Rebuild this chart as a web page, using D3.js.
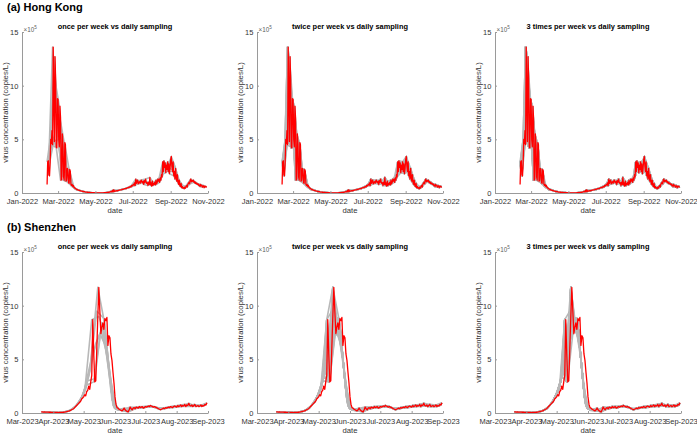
<!DOCTYPE html>
<html>
<head>
<meta charset="utf-8">
<script src="https://cdn.jsdelivr.net/npm/d3@7"></script>
<style>
  body { margin: 0; background: #fff; }
  svg { font-family: "Liberation Sans", Arial, sans-serif; }
</style>
</head>
<body>
<svg width="697" height="434"></svg>
<script>
// virus concentration (x10^5 copies/L), one value per day from the start date
// daily sampling (red)
var hkStart = "2022-02-11";
var hkValues = [
  0.8, 2.9, 3.0, 1.7, 1.6, 2.8, 5.0,
  4.6, 5.8, 4.5, 13.6, 9.0, 4.8, 12.7,
  10.5, 4.3, 4.2, 8.8, 8.7, 5.0, 4.3,
  8.1, 7.0, 1.2, 1.3, 5.5, 4.5, 1.5,
  1.2, 4.7, 4.5, 1.1, 1.2, 2.3, 2.2,
  1.0, 0.9, 2.2, 2.0, 0.8, 0.7, 0.8,
  0.6, 0.7, 0.5, 0.5, 0.4, 0.4, 0.35,
  0.3, 0.32, 0.28, 0.25, 0.24, 0.22, 0.2,
  0.18, 0.17, 0.15, 0.14, 0.13, 0.12, 0.1,
  0.09, 0.08, 0.08, 0.07, 0.06, 0.06, 0.05,
  0.05, 0.04, 0.04, 0.04, 0.03, 0.03, 0.03,
  0.03, 0.02, 0.02, 0.02, 0.02, 0.02, 0.02,
  0.02, 0.02, 0.02, 0.02, 0.02, 0.02, 0.02,
  0.02, 0.02, 0.03, 0.03, 0.03, 0.04, 0.04,
  0.05, 0.05, 0.06, 0.07, 0.08, 0.1, 0.12,
  0.15, 0.1, 0.25, 0.12, 0.3, 0.15, 0.2,
  0.18, 0.2, 0.22, 0.2, 0.24, 0.25, 0.27,
  0.28, 0.3, 0.3, 0.32, 0.35, 0.33, 0.36,
  0.38, 0.4, 0.42, 0.4, 0.45, 0.48, 0.5,
  0.52, 0.5, 0.58, 0.6, 0.55, 0.7, 0.65,
  0.72, 0.8, 0.75, 0.95, 0.7, 1.3, 0.9,
  1.1, 1.2, 0.85, 1.0, 1.05, 0.9, 1.1,
  1.2, 1.0, 0.95, 1.1, 0.8, 1.15, 1.0,
  1.3, 1.0, 0.9, 0.95, 0.7, 1.0, 0.8,
  1.45, 0.75, 0.95, 0.65, 1.1, 0.7, 0.9,
  0.8, 1.0, 0.75, 1.2, 0.85, 1.0, 1.3,
  1.1, 1.3, 1.0, 1.4, 1.2, 1.7, 1.5,
  2.9, 2.0, 3.0, 2.4, 2.8, 1.9, 2.6,
  2.2, 2.9, 2.0, 2.7, 1.8, 2.3, 3.1,
  3.4, 2.5, 2.0, 2.9, 1.6, 2.0, 1.3,
  2.3, 1.5, 1.1, 1.7, 1.0, 0.8, 1.2,
  0.7, 0.6, 0.9, 0.5, 0.6, 0.45, 0.5,
  0.4, 0.55, 0.45, 0.6, 0.7, 0.55, 0.8,
  0.9, 1.0, 0.85, 1.2, 1.3, 1.05, 1.15,
  1.1, 1.2, 1.0, 1.05, 0.9, 1.0, 0.85,
  0.9, 0.8, 0.85, 0.7, 0.75, 0.6, 0.8,
  0.7, 0.65, 0.55, 0.7, 0.6, 0.5, 0.65,
  0.6, 0.55, 0.6
];
var hkSampledValues = [
  2.9, 3.0, 1.7, 1.6, 2.8, 5.0, 4.6,
  5.8, 4.5, 13.6, 9.0, 4.8, 12.7, 10.5,
  4.3, 4.2, 8.8, 8.7, 5.0, 4.3, 8.1,
  7.0, 1.2, 1.3, 5.5, 4.5, 1.5, 1.2,
  4.7, 4.5, 1.1, 1.2, 2.3, 2.2, 1.0,
  0.9, 2.2, 2.0, 0.8, 0.7, 0.8, 0.6,
  0.7, 0.5, 0.5, 0.4, 0.4, 0.35, 0.3,
  0.3, 0.32, 0.28, 0.25, 0.24, 0.22, 0.2,
  0.18, 0.17, 0.15, 0.14, 0.13, 0.12, 0.1,
  0.09, 0.08, 0.08, 0.07, 0.06, 0.06, 0.05,
  0.05, 0.04, 0.04, 0.04, 0.03, 0.03, 0.03,
  0.03, 0.02, 0.02, 0.02, 0.02, 0.02, 0.02,
  0.02, 0.02, 0.02, 0.02, 0.02, 0.02, 0.02,
  0.02, 0.02, 0.03, 0.03, 0.03, 0.04, 0.04,
  0.05, 0.05, 0.06, 0.07, 0.08, 0.1, 0.12,
  0.15, 0.1, 0.25, 0.12, 0.3, 0.15, 0.2,
  0.18, 0.2, 0.22, 0.2, 0.24, 0.25, 0.27,
  0.28, 0.3, 0.3, 0.32, 0.35, 0.33, 0.36,
  0.38, 0.4, 0.42, 0.4, 0.45, 0.48, 0.5,
  0.52, 0.5, 0.58, 0.6, 0.55, 0.7, 0.65,
  0.72, 0.8, 0.75, 0.95, 0.7, 1.3, 0.9,
  1.1, 1.2, 0.85, 1.0, 1.05, 0.9, 1.1,
  1.2, 1.0, 0.95, 1.1, 0.8, 1.15, 1.0,
  1.3, 1.0, 0.9, 0.95, 0.7, 1.0, 0.8,
  1.45, 0.75, 0.95, 0.65, 1.1, 0.7, 0.9,
  0.8, 1.0, 0.75, 1.2, 0.85, 1.0, 1.3,
  1.1, 1.3, 1.0, 1.4, 1.2, 1.7, 1.5,
  2.9, 2.0, 3.0, 2.4, 2.8, 1.9, 2.6,
  2.2, 2.9, 2.0, 2.7, 1.8, 2.3, 3.1,
  3.4, 2.5, 2.0, 2.9, 1.6, 2.0, 1.3,
  2.3, 1.5, 1.1, 1.7, 1.0, 0.8, 1.2,
  0.7, 0.6, 0.9, 0.5, 0.6, 0.45, 0.5,
  0.4, 0.55, 0.45, 0.6, 0.7, 0.55, 0.8,
  0.9, 1.0, 0.85, 1.2, 1.3, 1.05, 1.15,
  1.1, 1.2, 1.0, 1.05, 0.9, 1.0, 0.85,
  0.9, 0.8, 0.85, 0.7, 0.75, 0.6, 0.8,
  0.7, 0.65, 0.55, 0.7, 0.6, 0.5, 0.65,
  0.6, 0.55, 0.6
];

var szStart = "2023-03-20";
var szValues = [
  0.1, 0.1, 0.09, 0.1, 0.08, 0.09, 0.08,
  0.08, 0.07, 0.07, 0.06, 0.06, 0.06, 0.05,
  0.05, 0.05, 0.05, 0.04, 0.05, 0.05, 0.06,
  0.06, 0.07, 0.08, 0.1, 0.12, 0.15, 0.18,
  0.2, 0.25, 0.3, 0.35, 0.4, 0.5, 0.6,
  0.7, 0.8, 0.9, 1.0, 1.1, 1.3, 1.4,
  1.5, 1.7, 1.6, 2.0, 2.1, 2.5, 2.2,
  2.9, 3.5, 8.7, 5.5, 2.9, 3.0, 6.0,
  9.0, 11.7, 9.5, 7.4, 8.0, 8.4, 7.8,
  8.8, 8.6, 8.9, 6.3, 7.2, 7.0, 5.5,
  4.9, 3.8, 2.8, 1.5, 0.8, 0.5, 0.45,
  0.35, 0.3, 0.25, 0.2, 0.3, 0.45, 0.3,
  0.2, 0.15, 0.1, 0.3, 0.55, 0.4, 0.3,
  0.45, 0.5, 0.4, 0.55, 0.5, 0.45, 0.6,
  0.5, 0.55, 0.6, 0.45, 0.5, 0.6, 0.55,
  0.6, 0.65, 0.6, 0.7, 0.65, 0.6, 0.55,
  0.6, 0.55, 0.5, 0.45, 0.4, 0.35, 0.3,
  0.35, 0.4, 0.45, 0.4, 0.5, 0.45, 0.5,
  0.55, 0.5, 0.6, 0.55, 0.5, 0.6, 0.65,
  0.6, 0.55, 0.7, 0.6, 0.65, 0.75, 0.6,
  0.7, 0.65, 0.8, 0.6, 0.75, 0.7, 0.9,
  0.7, 0.65, 0.75, 0.6, 0.7, 0.8, 0.6,
  0.65, 0.7, 0.6, 0.65, 0.75, 0.6, 0.7,
  0.65, 0.8, 0.75, 0.95
];
var szSampledValues = [
  0.1, 0.1, 0.09, 0.1, 0.08, 0.09, 0.08,
  0.08, 0.07, 0.07, 0.06, 0.06, 0.06, 0.05,
  0.05, 0.05, 0.05, 0.04, 0.05, 0.05, 0.06,
  0.06, 0.07, 0.08, 0.1, 0.12, 0.15, 0.18,
  0.2, 0.25, 0.3, 0.35, 0.4, 0.5, 0.6,
  0.7, 0.8, 0.9, 1.0, 1.2, 1.4, 1.6,
  1.8, 2.0, 2.2, 2.6, 3.0, 3.4, 3.9,
  4.8, 8.7, 5.5, 2.9, 3.2, 6.5, 9.5,
  11.7, 9.0, 7.4, 7.8, 8.4, 8.0, 8.8,
  8.2, 7.0, 6.0, 5.0, 4.0, 3.0, 2.0,
  1.2, 0.7, 0.5, 0.4, 0.35, 0.3, 0.25,
  0.35, 0.3, 0.25, 0.2, 0.3, 0.45, 0.3,
  0.2, 0.15, 0.1, 0.3, 0.55, 0.4, 0.3,
  0.45, 0.5, 0.4, 0.55, 0.5, 0.45, 0.6,
  0.5, 0.55, 0.6, 0.45, 0.5, 0.6, 0.55,
  0.6, 0.65, 0.6, 0.7, 0.65, 0.6, 0.55,
  0.6, 0.55, 0.5, 0.45, 0.4, 0.35, 0.3,
  0.35, 0.4, 0.45, 0.4, 0.5, 0.45, 0.5,
  0.55, 0.5, 0.6, 0.55, 0.5, 0.6, 0.65,
  0.6, 0.55, 0.7, 0.6, 0.65, 0.75, 0.6,
  0.7, 0.65, 0.8, 0.6, 0.75, 0.7, 0.9,
  0.7, 0.65, 0.75, 0.6, 0.7, 0.8, 0.6,
  0.65, 0.7, 0.6, 0.65, 0.75, 0.6, 0.7,
  0.65, 0.8, 0.75, 0.95
];

var regionLabels = ["(a) Hong Kong", "(b) Shenzhen"];
var panelTitles = ["once per week vs daily sampling", "twice per week vs daily sampling", "3 times per week vs daily sampling"];
var samplesPerWeek = [1, 2, 3];
var hkDomain = ["2022-01-01", "2022-11-01"];
var szDomain = ["2023-03-01", "2023-09-01"];
var hkTicks = ["2022-01-01", "2022-03-01", "2022-05-01", "2022-07-01", "2022-09-01", "2022-11-01"];
var szTicks = ["2023-03-01", "2023-04-01", "2023-05-01", "2023-06-01", "2023-07-01", "2023-08-01", "2023-09-01"];
var yTicks = [0, 5, 10, 15];

var parse = d3.timeParse("%Y-%m-%d");
var fmt = d3.timeFormat("%b-%Y");

var svg = d3.select("svg");

var colX = [22, 257, 495];
var pw = 186;
var rowY = [32, 252];
var ph = 161;

var regions = [
  { start: hkStart, values: hkValues, sampled: hkSampledValues, domain: hkDomain, ticks: hkTicks },
  { start: szStart, values: szValues, sampled: szSampledValues, domain: szDomain, ticks: szTicks }
];

// all ways of picking k sampling weekdays out of 7
function combos(k) {
  var out = [];
  function rec(from, acc) {
    if (acc.length == k) { out.push(acc.slice()); return; }
    for (var d = from; d < 7; d++) { acc.push(d); rec(d + 1, acc); acc.pop(); }
  }
  rec(0, []);
  return out;
}

regions.forEach(function(reg, r) {
  var t0 = parse(reg.start);
  var toPoints = function(arr) {
    return arr.map(function(v, i) {
      return { date: d3.timeDay.offset(t0, i), value: v, wd: i % 7 };
    });
  };
  var daily = toPoints(reg.values);
  var base = toPoints(reg.sampled);

  svg.append("text")
    .attr("x", 7)
    .attr("y", r == 0 ? 11 : 231)
    .attr("font-size", "11px")
    .attr("font-weight", "bold")
    .text(regionLabels[r]);

  samplesPerWeek.forEach(function(k, c) {
    var x0 = colX[c], y0 = rowY[r];
    var x = d3.scaleTime()
      .domain(reg.domain.map(parse))
      .range([x0, x0 + pw]);
    var y = d3.scaleLinear()
      .domain([0, 15])
      .range([y0 + ph, y0]);

    var line = d3.line()
      .x(function(d) { return x(d.date); })
      .y(function(d) { return y(d.value); });

    var g = svg.append("g");

    // sub-sampled series, one line per choice of sampling weekdays
    combos(k).forEach(function(days) {
      var pts = base.filter(function(d) { return days.indexOf(d.wd) >= 0; });
      g.append("path")
        .attr("d", line(pts))
        .attr("fill", "none")
        .attr("stroke", "#b8b8b8")
        .attr("stroke-width", 1.6)
        .attr("stroke-linejoin", "round");
    });

    // daily series
    g.append("path")
      .attr("d", line(daily))
      .attr("fill", "none")
      .attr("stroke", "#ff0000")
      .attr("stroke-width", 1.3)
      .attr("stroke-linejoin", "round");

    var xAxis = svg.append("g")
      .attr("transform", "translate(0," + (y0 + ph) + ")")
      .call(d3.axisBottom(x)
        .tickValues(reg.ticks.map(parse))
        .tickFormat(fmt)
        .tickSizeInner(-2)
        .tickSizeOuter(0)
        .tickPadding(5.3));

    var yAxis = svg.append("g")
      .attr("transform", "translate(" + x0 + ",0)")
      .call(d3.axisLeft(y)
        .tickValues(yTicks)
        .tickFormat(d3.format("d"))
        .tickSizeInner(-2)
        .tickSizeOuter(0)
        .tickPadding(3.7));

    [xAxis, yAxis].forEach(function(a) {
      a.select(".domain").attr("stroke", "#9a9a9a");
      a.selectAll(".tick line").attr("stroke", "#9a9a9a");
      a.selectAll("text")
        .attr("fill", "#333")
        .attr("font-size", "7.5px")
        .attr("font-family", "'Liberation Sans', Arial, sans-serif");
    });

    // exponent label
    var ex = svg.append("text")
      .attr("x", x0 + 1.5)
      .attr("y", y0 - 0.5)
      .attr("fill", "#606060")
      .attr("font-size", "6.3px")
      .text("\u00d710");
    ex.append("tspan")
      .attr("dy", -2.6)
      .attr("font-size", "4.6px")
      .text("5");

    svg.append("text")
      .attr("x", x0 + pw / 2)
      .attr("y", y0 - 2.8)
      .attr("text-anchor", "middle")
      .attr("font-size", "7.4px")
      .attr("font-weight", "bold")
      .text(panelTitles[c]);

    svg.append("text")
      .attr("transform", "translate(" + (x0 - 14.5) + "," + (y0 + ph / 2) + ") rotate(-90)")
      .attr("text-anchor", "middle")
      .attr("fill", "#333")
      .attr("font-size", "7.7px")
      .text("virus concentration (copies/L)");

    svg.append("text")
      .attr("x", x0 + pw / 2)
      .attr("y", y0 + ph + 19.5)
      .attr("text-anchor", "middle")
      .attr("fill", "#333")
      .attr("font-size", "7.7px")
      .text("date");
  });
});
</script>
</body>
</html>
